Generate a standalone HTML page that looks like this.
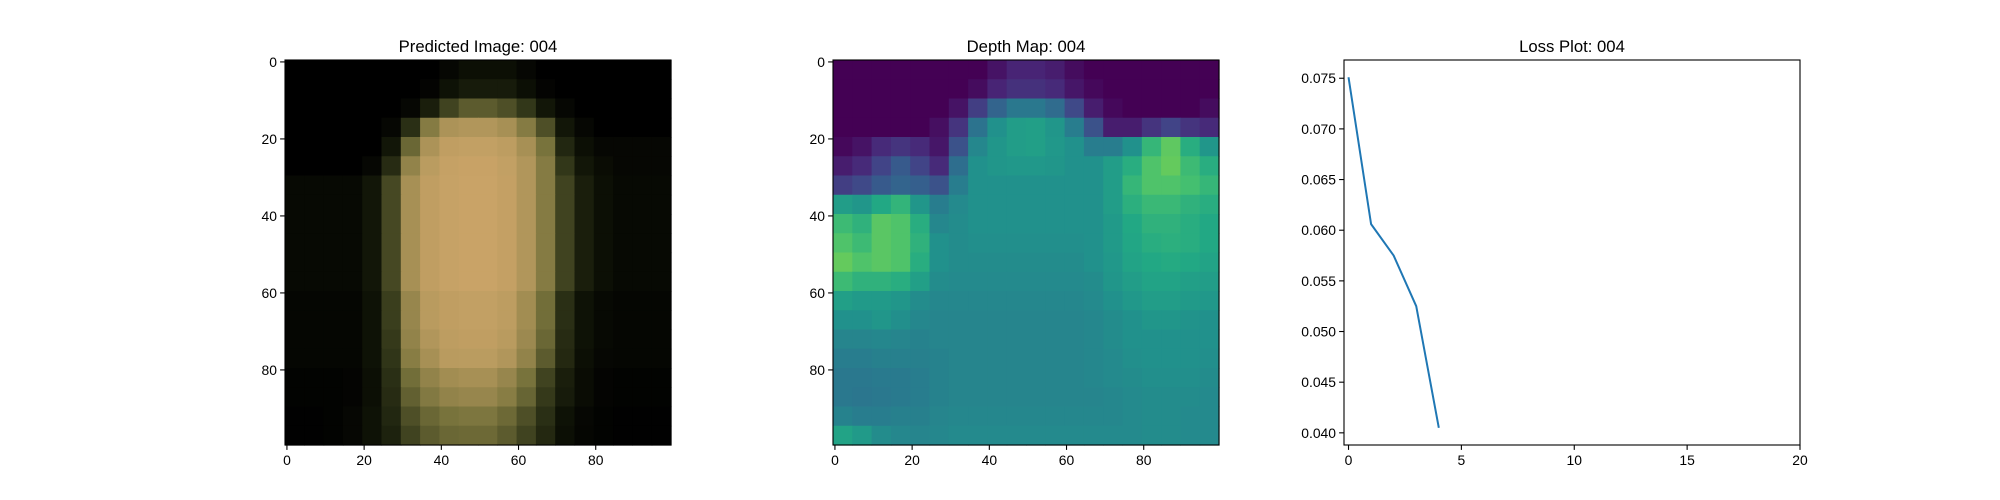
<!DOCTYPE html>
<html><head><meta charset="utf-8"><style>
html,body{margin:0;padding:0;background:#fff;width:2000px;height:500px;overflow:hidden}
svg{display:block;font-family:"Liberation Sans","DejaVu Sans",sans-serif}
</style></head><body>
<svg id="fig" width="2000" height="500" viewBox="0 0 2000 500" xmlns="http://www.w3.org/2000/svg"></svg>
<script>
// ---------- data ----------
const imgTicks = [0, 20, 40, 60, 80];
const imageRows = [
 [0,0,0,0,0,0,0,0,0.05,0.1,0.1,0.1,0.05,0,0,0,0,0,0,0],
 [0,0,0,0,0,0,0,0.03,0.12,0.18,0.18,0.18,0.1,0.03,0,0,0,0,0,0],
 [0,0,0,0,0,0,0.05,0.2,0.4,0.5,0.5,0.45,0.35,0.15,0.05,0,0,0,0,0],
 [0,0,0,0,0,0.05,0.3,0.65,0.8,0.82,0.82,0.78,0.65,0.45,0.15,0.05,0,0,0,0],
 [0,0,0,0,0,0.15,0.55,0.8,0.9,0.92,0.92,0.88,0.78,0.6,0.25,0.1,0.05,0.05,0.05,0.05],
 [0,0,0,0,0.05,0.28,0.7,0.86,0.94,0.96,0.96,0.92,0.82,0.65,0.35,0.15,0.08,0.05,0.05,0.05],
 [0.06,0.06,0.06,0.06,0.15,0.42,0.78,0.9,0.95,0.97,0.97,0.93,0.82,0.65,0.4,0.2,0.1,0.06,0.06,0.06],
 [0.06,0.06,0.06,0.06,0.15,0.42,0.78,0.9,0.95,0.97,0.97,0.93,0.82,0.65,0.4,0.2,0.1,0.06,0.06,0.06],
 [0.06,0.06,0.06,0.06,0.15,0.42,0.78,0.9,0.95,0.97,0.97,0.93,0.82,0.65,0.4,0.2,0.1,0.06,0.06,0.06],
 [0.06,0.06,0.06,0.06,0.15,0.42,0.78,0.9,0.95,0.97,0.97,0.93,0.82,0.65,0.4,0.2,0.1,0.06,0.06,0.06],
 [0.06,0.06,0.06,0.06,0.15,0.42,0.78,0.9,0.95,0.97,0.97,0.93,0.82,0.65,0.4,0.2,0.1,0.06,0.06,0.06],
 [0.06,0.06,0.06,0.06,0.15,0.42,0.78,0.9,0.95,0.97,0.97,0.93,0.82,0.65,0.4,0.2,0.1,0.06,0.06,0.06],
 [0.04,0.04,0.04,0.04,0.12,0.38,0.72,0.85,0.9,0.92,0.92,0.88,0.76,0.58,0.3,0.12,0.06,0.04,0.04,0.04],
 [0.04,0.04,0.04,0.04,0.12,0.38,0.72,0.85,0.9,0.92,0.92,0.88,0.76,0.58,0.3,0.12,0.06,0.04,0.04,0.04],
 [0.04,0.04,0.04,0.04,0.12,0.36,0.7,0.82,0.88,0.9,0.9,0.85,0.74,0.55,0.28,0.12,0.06,0.04,0.04,0.04],
 [0.04,0.04,0.04,0.04,0.12,0.34,0.66,0.78,0.85,0.86,0.86,0.82,0.7,0.5,0.26,0.1,0.05,0.04,0.04,0.04],
 [0.02,0.02,0.02,0.03,0.1,0.3,0.58,0.7,0.76,0.78,0.78,0.72,0.6,0.4,0.2,0.08,0.03,0.02,0.02,0.02],
 [0.02,0.02,0.02,0.03,0.1,0.28,0.52,0.64,0.7,0.72,0.72,0.66,0.54,0.36,0.18,0.08,0.03,0.02,0.02,0.02],
 [0.01,0.01,0.02,0.05,0.12,0.25,0.45,0.55,0.6,0.62,0.62,0.56,0.45,0.3,0.12,0.05,0.02,0.01,0.01,0.01],
 [0.01,0.01,0.02,0.05,0.12,0.22,0.4,0.5,0.55,0.56,0.56,0.5,0.4,0.26,0.1,0.04,0.02,0.01,0.01,0.01]
];
const depthRows = [
 [0,0,0,0,0,0,0,0,0.05,0.1,0.1,0.08,0.03,0,0,0,0,0,0,0],
 [0,0,0,0,0,0,0,0.03,0.1,0.14,0.14,0.12,0.06,0.02,0,0,0,0,0,0],
 [0,0,0,0,0,0,0.05,0.18,0.32,0.4,0.4,0.35,0.22,0.08,0.02,0,0,0,0,0.03],
 [0,0,0,0,0,0.04,0.15,0.38,0.5,0.55,0.56,0.52,0.42,0.25,0.08,0.08,0.15,0.2,0.15,0.12],
 [0.02,0.05,0.12,0.15,0.12,0.06,0.25,0.46,0.52,0.55,0.56,0.53,0.5,0.42,0.42,0.5,0.66,0.75,0.62,0.52],
 [0.08,0.12,0.2,0.28,0.2,0.12,0.36,0.5,0.52,0.53,0.53,0.52,0.5,0.5,0.55,0.62,0.72,0.76,0.68,0.62],
 [0.18,0.22,0.28,0.32,0.3,0.25,0.42,0.5,0.5,0.5,0.5,0.5,0.5,0.5,0.55,0.66,0.72,0.72,0.7,0.66],
 [0.55,0.52,0.6,0.65,0.52,0.42,0.47,0.5,0.5,0.5,0.5,0.5,0.5,0.5,0.55,0.63,0.67,0.67,0.64,0.62],
 [0.68,0.64,0.74,0.72,0.62,0.46,0.48,0.5,0.5,0.5,0.5,0.5,0.5,0.5,0.54,0.6,0.64,0.64,0.62,0.6],
 [0.72,0.68,0.74,0.72,0.64,0.5,0.48,0.49,0.49,0.49,0.49,0.49,0.49,0.5,0.54,0.59,0.62,0.63,0.62,0.6],
 [0.76,0.72,0.74,0.72,0.62,0.5,0.48,0.48,0.48,0.48,0.48,0.48,0.48,0.5,0.53,0.58,0.6,0.61,0.6,0.58],
 [0.68,0.64,0.64,0.62,0.56,0.48,0.47,0.47,0.47,0.47,0.47,0.47,0.47,0.48,0.52,0.55,0.58,0.58,0.56,0.55],
 [0.56,0.54,0.54,0.52,0.48,0.46,0.46,0.46,0.46,0.46,0.46,0.46,0.46,0.47,0.5,0.53,0.55,0.55,0.54,0.53],
 [0.5,0.5,0.52,0.49,0.46,0.45,0.45,0.45,0.45,0.45,0.45,0.45,0.45,0.46,0.48,0.5,0.52,0.52,0.51,0.5],
 [0.45,0.45,0.46,0.45,0.44,0.45,0.45,0.45,0.45,0.45,0.45,0.45,0.45,0.46,0.48,0.5,0.5,0.5,0.5,0.5],
 [0.42,0.42,0.43,0.43,0.43,0.44,0.45,0.45,0.45,0.45,0.45,0.45,0.45,0.46,0.47,0.49,0.5,0.5,0.5,0.49],
 [0.4,0.4,0.41,0.41,0.42,0.44,0.45,0.45,0.45,0.45,0.45,0.45,0.45,0.46,0.47,0.48,0.49,0.49,0.49,0.48],
 [0.4,0.39,0.4,0.41,0.42,0.44,0.45,0.45,0.45,0.45,0.45,0.45,0.45,0.45,0.46,0.47,0.48,0.48,0.48,0.47],
 [0.44,0.42,0.42,0.43,0.43,0.45,0.46,0.46,0.46,0.46,0.46,0.46,0.46,0.46,0.46,0.47,0.48,0.48,0.47,0.47],
 [0.58,0.54,0.48,0.46,0.45,0.46,0.47,0.47,0.47,0.47,0.47,0.47,0.47,0.47,0.47,0.47,0.48,0.48,0.47,0.47]
];
const lossEpochs = [0, 1, 2, 3, 4];
const lossValues = [0.0751, 0.0606, 0.0575, 0.0525, 0.0405];
const lossXTicks = [0, 5, 10, 15, 20];
const lossYTicks = [0.040, 0.045, 0.050, 0.055, 0.060, 0.065, 0.070, 0.075];

// ---------- helpers ----------
const NS = "http://www.w3.org/2000/svg";
const svg = document.getElementById('fig');
function mk(tag, attrs, parent) {
  const e = document.createElementNS(NS, tag);
  for (const k in attrs) e.setAttribute(k, attrs[k]);
  (parent || svg).appendChild(e);
  return e;
}
function lerp(a, b, t) { return a + (b - a) * t; }
function ramp(stops, v) {
  v = Math.max(0, Math.min(1, v));
  for (let i = 1; i < stops.length; i++) {
    if (v <= stops[i][0]) {
      const a = stops[i-1], b = stops[i], t = (v - a[0]) / (b[0] - a[0]);
      return 'rgb(' + [1,2,3].map(j => Math.round(lerp(a[j], b[j], t))).join(',') + ')';
    }
  }
  const l = stops[stops.length-1]; return 'rgb(' + l[1] + ',' + l[2] + ',' + l[3] + ')';
}
const viridis = [[0,68,1,84],[0.1,72,36,117],[0.2,65,68,135],[0.3,53,95,141],[0.4,42,120,142],
  [0.5,33,145,140],[0.6,34,168,132],[0.7,68,191,112],[0.8,122,209,81],[0.9,189,223,38],[1,253,231,37]];
const warm = [[0,0,0,0],[0.15,18,22,8],[0.35,50,55,25],[0.6,120,115,60],[0.85,185,155,95],[1,205,165,105]];

function drawTickLabelsImage(x0, y0, w, h, group) {
  imgTicks.forEach(t => {
    const cx = x0 + (t + 0.5) * (w / 100);
    const cy = y0 + (t + 0.5) * (h / 100);
    mk('line', {x1: cx, x2: cx, y1: y0 + h, y2: y0 + h + 4.9, stroke: '#000', 'stroke-width': 1.1}, group);
    const tx = mk('text', {x: cx, y: y0 + h + 20, 'text-anchor': 'middle', 'font-size': 13.9, fill: '#000'}, group);
    tx.textContent = t;
    
    
    mk('line', {x1: x0 - 4.9, x2: x0, y1: cy, y2: cy, stroke: '#000', 'stroke-width': 1.1}, group);
    const ty = mk('text', {x: x0 - 8, y: cy + 5, 'text-anchor': 'end', 'font-size': 13.9, fill: '#000'}, group);
    ty.textContent = t;
    
    
  });
}

function heatPanel(name, title, x0, rows, stops) {
  const y0 = 60, w = 386, h = 385;
  const g = mk('g', {});
  
  
  const nr = rows.length, nc = rows[0].length;
  const cw = w / nc, ch = h / nr;
  rows.forEach((row, r) => row.forEach((v, c) => {
    const cell = mk('rect', {x: x0 + c * cw, y: y0 + r * ch, width: cw + 0.6, height: ch + 0.6, fill: ramp(stops, v)}, g);
    
    
  }));
  const fr = mk('rect', {x: x0, y: y0, width: w, height: h, fill: 'none', stroke: '#000', 'stroke-width': 1.1}, g);
  
  
  drawTickLabelsImage(x0, y0, w, h, g);
  const tt = mk('text', {x: x0 + w / 2, y: 52, 'text-anchor': 'middle', 'font-size': 16.7, fill: '#000'}, g);
  tt.textContent = title;
  
  
}

heatPanel('predicted-image-panel', 'Predicted Image: 004', 285, imageRows, warm);
heatPanel('depth-map-panel', 'Depth Map: 004', 833, depthRows, viridis);

// ---------- loss plot ----------
(function () {
  const x0 = 1344, x1 = 1800, y0 = 60, y1 = 445;
  const xmin = -0.2, xmax = 20, ymin = 0.0388, ymax = 0.0768;
  const X = v => x0 + (v - xmin) / (xmax - xmin) * (x1 - x0);
  const Y = v => y1 - (v - ymin) / (ymax - ymin) * (y1 - y0);
  const g = mk('g', {});
  
  
  const line = mk('polyline', {points: lossEpochs.map((e, i) => X(e) + ',' + Y(lossValues[i])).join(' '),
    fill: 'none', stroke: '#1f77b4', 'stroke-width': 2, 'stroke-linejoin': 'round'}, g);
  
  
  const fr = mk('rect', {x: x0, y: y0, width: x1 - x0, height: y1 - y0, fill: 'none', stroke: '#000', 'stroke-width': 1.1}, g);
  
  
  lossXTicks.forEach(t => {
    const x = X(t);
    mk('line', {x1: x, x2: x, y1: y1, y2: y1 + 4.9, stroke: '#000', 'stroke-width': 1.1}, g);
    const tx = mk('text', {x: x, y: y1 + 20, 'text-anchor': 'middle', 'font-size': 13.9, fill: '#000'}, g);
    tx.textContent = t;
    
    
  });
  lossYTicks.forEach(t => {
    const y = Y(t);
    mk('line', {x1: x0 - 4.9, x2: x0, y1: y, y2: y, stroke: '#000', 'stroke-width': 1.1}, g);
    const ty = mk('text', {x: x0 - 8, y: y + 5, 'text-anchor': 'end', 'font-size': 13.9, fill: '#000'}, g);
    ty.textContent = t.toFixed(3);
    
    
  });
  const tt = mk('text', {x: (x0 + x1) / 2, y: 52, 'text-anchor': 'middle', 'font-size': 16.7, fill: '#000'}, g);
  tt.textContent = 'Loss Plot: 004';
  
  
})();
</script>
</body></html>
